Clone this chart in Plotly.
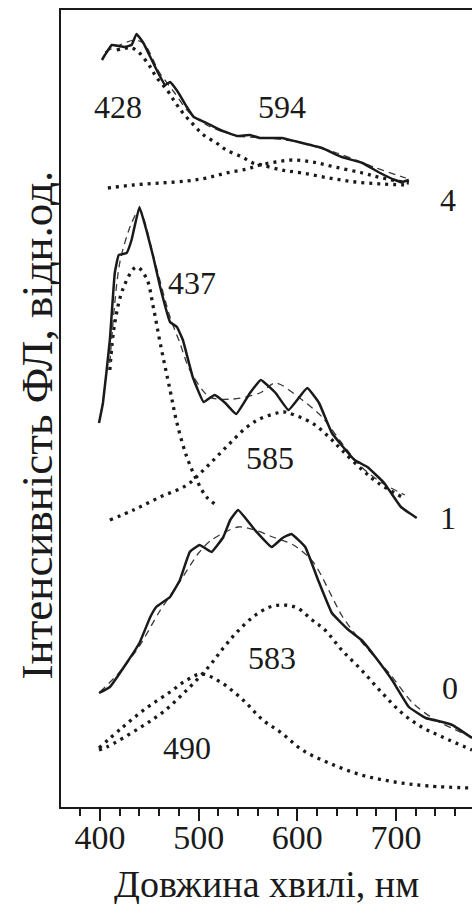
import plotly.graph_objects as go

# ---------------- data (wavelength nm, intensity arb. units incl. stacking offset) ----------------
x0_exp = [399,410,427,440,451,457,471,481,491,501,513,525,532,540,557,574,585,594,608,621,635,652,665,679,696,713,730,747,757,777]
y0_exp = [114,120,144,164,190,200,210,227,255,262,255,270,287,297,277,260,269,273,260,227,194,177,167,150,127,100,89,85,82,69]
x0_fit = [400,420,440,460,480,500,513,540,557,575,596,616,646,666,693,717,740,777]
y0_fit = [115,135,161,195,224,254,267,280,277,270,262,245,190,164,134,104,87,70]
x0_g490 = [399,422,447,471,488,503,522,545,565,584,605,632,665,699,733,777]
y0_g490 = [59,79,99,115,127,133,125,107,87,74,57,44,32,25,21,19]
x0_g583 = [399,407,440,464,488,510,525,538,555,572,586,600,615,628,645,665,686,706,726,747,777]
y0_g583 = [57,60,79,95,117,140,159,174,190,200,202,199,187,177,157,137,114,94,80,70,57]

x1_exp = [399,403,410,415,419,427,432,440,447,454,461,471,478,484,494,505,516,527,538,552,563,578,591,610,622,635,658,671,688,705,721]
y1_exp = [384,404,467,534,552,554,567,600,577,550,520,485,480,467,430,405,412,404,393,414,427,414,397,419,404,374,347,340,324,300,289]
x1_fit = [410,420,432,440,457,471,481,491,511,535,562,578,605,625,645,665,686,709]
y1_fit = [444,544,584,597,540,490,464,437,410,408,414,424,407,390,364,340,324,312]
x1_g437 = [410,415,424,437,447,454,461,471,478,488,498,508,518]
y1_g437 = [437,484,520,540,529,500,464,417,384,350,327,310,302]
x1_g585 = [410,434,461,488,508,528,549,564,586,591,615,632,645,666,682,706]
y1_g585 = [287,297,310,322,340,360,380,389,395,394,384,370,357,337,324,310]

x4_exp = [402,405,412,419,425,432,437,444,451,459,466,471,479,488,495,508,522,539,552,562,584,605,625,645,666,682,699,706,713]
y4_exp = [747,752,762,761,760,762,773,764,750,734,722,725,715,700,690,684,677,671,672,669,669,664,659,650,644,635,627,625,627]
x4_fit = [405,420,435,445,460,475,490,510,540,570,600,640,680,710]
y4_fit = [755,762,767,763,735,715,695,681,671,669,665,654,639,629]
x4_g428 = [417,432,440,451,457,468,476,484,495,505,518,528,544,555,564,584,605,632,659,686,713]
y4_g428 = [757,759,754,740,730,717,705,694,682,672,664,657,650,644,642,637,634,629,625,623,622]
x4_g594 = [408,434,461,488,508,528,549,562,578,595,615,638,666,686,713]
y4_g594 = [619,622,624,626,629,634,638,642,645,647,645,640,634,629,624]

# text labels: (x nm, y, text)
labels_x = [418, 584.5, 752.7, 493, 572.3, 752.7, 574, 754.7, 488]
labels_y = [700, 700, 607, 524, 349, 289, 149, 119, 59]
labels_t = ["428", "594", "4", "437", "585", "1", "583", "0", "490"]

x_tickvals = [400, 500, 600, 700, 800]
x_title = "Довжина хвилі, нм"
y_title = "Інтенсивність ФЛ, відн.од."

# ---------------- figure ----------------
FONT = "Liberation Serif, Times New Roman, serif"
INK = "#1a1a1a"

fig = go.Figure()

def add(x, y, kind):
    if kind == "exp":
        line = dict(color=INK, width=2.5, shape="spline", smoothing=0.3)
    elif kind == "fit":
        line = dict(color="#3a3a3a", width=1.3, dash="7px,5px", shape="spline", smoothing=0.8)
    else:
        line = dict(color=INK, width=3.3, dash="3px,5px", shape="spline", smoothing=1.0)
    fig.add_trace(go.Scatter(x=x, y=y, mode="lines", line=line, showlegend=False, hoverinfo="skip"))

for xs, ys, k in [
    (x0_g490, y0_g490, "dot"), (x0_g583, y0_g583, "dot"), (x0_fit, y0_fit, "fit"), (x0_exp, y0_exp, "exp"),
    (x1_g437, y1_g437, "dot"), (x1_g585, y1_g585, "dot"), (x1_fit, y1_fit, "fit"), (x1_exp, y1_exp, "exp"),
    (x4_g428, y4_g428, "dot"), (x4_g594, y4_g594, "dot"), (x4_fit, y4_fit, "fit"), (x4_exp, y4_exp, "exp"),
]:
    add(xs, ys, k)

for lx, ly, lt in zip(labels_x, labels_y, labels_t):
    fig.add_annotation(x=lx, y=ly, xref="x", yref="y", text=lt, showarrow=False,
                       font=dict(family=FONT, size=32, color=INK), xanchor="center", yanchor="middle")

# axis titles as annotations for exact placement
fig.add_annotation(x=0.5, y=-0.097, xref="paper", yref="paper", text=x_title, showarrow=False,
                   font=dict(family=FONT, size=38, color=INK), xanchor="center", yanchor="middle")
fig.add_annotation(x=-0.058, y=0.479, xref="paper", yref="paper", text=y_title, showarrow=False,
                   textangle=-90, font=dict(family=FONT, size=45, color=INK), xanchor="center", yanchor="middle")

fig.update_layout(
    width=472, height=904,
    margin=dict(l=61, r=0, t=10, b=97),
    paper_bgcolor="white", plot_bgcolor="white",
    font=dict(family=FONT, color=INK),
    xaxis=dict(range=[360.5, 777], tickvals=x_tickvals, ticks="outside", ticklen=12, tickwidth=1.5,
               tickcolor=INK, showline=True, linecolor=INK, linewidth=2, mirror=True,
               showgrid=False, zeroline=False, tickfont=dict(family=FONT, size=34, color=INK),
               ticklabelstandoff=-13,
               minor=dict(dtick=20, ticks="outside", ticklen=7, tickwidth=1.5, tickcolor=INK, showgrid=False)),
    yaxis=dict(range=[0, 797], showticklabels=False, ticks="", showline=True, linecolor=INK, linewidth=2,
               showgrid=False, zeroline=False),
)

fig.write_html("out.html")
